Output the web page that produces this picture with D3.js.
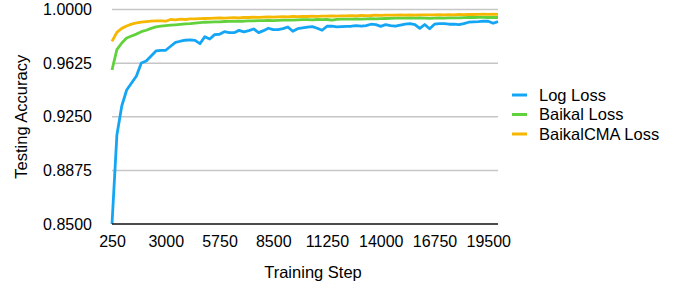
<!DOCTYPE html>
<html>
<head>
<meta charset="utf-8">
<script src="https://cdn.jsdelivr.net/npm/d3@7"></script>
<style>
  body { margin: 0; background: #fff; }
  svg { display: block; }
  text { font-family: "Liberation Sans", Arial, Helvetica, sans-serif; fill: #000; }
</style>
</head>
<body>
<svg id="chart" width="688" height="288"></svg>
<script>
// ---- data ----
const steps = d3.range(250, 20001, 250); // 80 training steps
const xTickLabels = [250, 3000, 5750, 8500, 11250, 14000, 16750, 19500];
const yTickLabels = [0.85, 0.8875, 0.925, 0.9625, 1.0];
const seriesNames = ["Log Loss", "Baikal Loss", "BaikalCMA Loss"];

const logLoss = [
  0.8500,0.9122,0.9325,0.9437,0.9486,0.9535,0.9626,0.9640,0.9675,0.9710,
  0.9714,0.9715,0.9743,0.9770,0.9778,0.9785,0.9787,0.9784,0.9761,0.9810,
  0.9794,0.9824,0.9827,0.9845,0.9838,0.9838,0.9854,0.9843,0.9852,0.9864,
  0.9838,0.9852,0.9869,0.9859,0.9859,0.9866,0.9878,0.9848,0.9866,0.9871,
  0.9876,0.9880,0.9869,0.9855,0.9883,0.9883,0.9878,0.9880,0.9882,0.9883,
  0.9887,0.9883,0.9887,0.9897,0.9894,0.9882,0.9894,0.9887,0.9883,0.9890,
  0.9897,0.9901,0.9894,0.9868,0.9895,0.9865,0.9897,0.9901,0.9901,0.9897,
  0.9897,0.9894,0.9901,0.9911,0.9913,0.9915,0.9918,0.9918,0.9904,0.9915
];
const baikalLoss = [
  0.9577,0.9719,0.9766,0.9801,0.9815,0.9828,0.9845,0.9855,0.9868,0.9878,
  0.9883,0.9887,0.9890,0.9893,0.9896,0.9899,0.9901,0.9905,0.9908,0.9911,
  0.9912,0.9913,0.9914,0.9916,0.9917,0.9917,0.9919,0.9918,0.9920,0.9921,
  0.9922,0.9922,0.9923,0.9922,0.9924,0.9925,0.9926,0.9926,0.9928,0.9929,
  0.9929,0.9928,0.9930,0.9929,0.9930,0.9925,0.9931,0.9932,0.9932,0.9933,
  0.9934,0.9933,0.9935,0.9936,0.9935,0.9936,0.9937,0.9938,0.9939,0.9940,
  0.9940,0.9941,0.9940,0.9941,0.9940,0.9938,0.9940,0.9941,0.9940,0.9941,
  0.9942,0.9941,0.9943,0.9944,0.9944,0.9945,0.9945,0.9944,0.9945,0.9944
];
const baikalCMALoss = [
  0.9777,0.9840,0.9868,0.9885,0.9898,0.9906,0.9911,0.9915,0.9918,0.9920,
  0.9921,0.9918,0.9930,0.9927,0.9932,0.9930,0.9934,0.9935,0.9936,0.9937,
  0.9938,0.9940,0.9941,0.9940,0.9942,0.9943,0.9942,0.9945,0.9944,0.9946,
  0.9945,0.9947,0.9948,0.9946,0.9949,0.9950,0.9949,0.9951,0.9950,0.9952,
  0.9951,0.9953,0.9952,0.9954,0.9953,0.9955,0.9954,0.9956,0.9955,0.9957,
  0.9956,0.9958,0.9957,0.9958,0.9960,0.9959,0.9960,0.9961,0.9960,0.9962,
  0.9961,0.9962,0.9961,0.9963,0.9962,0.9963,0.9962,0.9964,0.9963,0.9964,
  0.9963,0.9965,0.9964,0.9966,0.9965,0.9966,0.9967,0.9966,0.9967,0.9966
];
const colors = ["#14A6F5", "#62D23C", "#F6B700"];

// ---- chart ----
const svg = d3.select("#chart");
const margin = { left: 112, right: 190, top: 9.5, bottom: 64 };
const W = 688, H = 288;
const x = d3.scaleLinear().domain([250, 20000]).range([margin.left, W - margin.right]);
const y = d3.scaleLinear().domain([0.85, 1.0]).range([H - margin.bottom, margin.top]);

// gridlines
svg.append("g")
  .selectAll("line")
  .data(yTickLabels.filter(d => d > 0.85))
  .join("line")
  .attr("x1", x.range()[0]).attr("x2", x.range()[1])
  .attr("y1", d => y(d)).attr("y2", d => y(d))
  .attr("stroke", "#c6c6c6").attr("stroke-width", 1.5);

// y axis labels
const yAxis = d3.axisLeft(y).tickValues(yTickLabels).tickFormat(d3.format(".4f")).tickSize(0).tickPadding(20);
svg.append("g").attr("transform", `translate(${margin.left},0)`).call(yAxis)
  .call(g => g.select(".domain").remove())
  .selectAll("text").attr("font-size", 16).attr("font-family", "Liberation Sans, Arial, sans-serif").attr("fill", "#000");

// x axis
const xAxis = d3.axisBottom(x).tickValues(xTickLabels).tickFormat(d => d).tickSize(0).tickPadding(12);
svg.append("g").attr("transform", `translate(0,${y(0.85)})`).call(xAxis)
  .call(g => g.select(".domain").remove())
  .selectAll("text").attr("font-size", 16).attr("font-family", "Liberation Sans, Arial, sans-serif").attr("fill", "#000");

// series lines
const seriesData = [logLoss, baikalLoss, baikalCMALoss];
const line = d3.line().x((d, i) => x(steps[i])).y(d => y(d));
// draw in order: orange behind? draw blue, green, orange
svg.append("g").selectAll("path")
  .data(seriesData)
  .join("path")
  .attr("d", d => line(d))
  .attr("fill", "none")
  .attr("stroke", (d, i) => colors[i])
  .attr("stroke-width", 2.8)
  .attr("stroke-linejoin", "round")
  .attr("stroke-linecap", "butt");

// baseline axis
svg.append("line")
  .attr("x1", x.range()[0]).attr("x2", x.range()[1])
  .attr("y1", y(0.85)).attr("y2", y(0.85))
  .attr("stroke", "#111").attr("stroke-width", 1.5);

// axis titles
svg.append("text")
  .attr("x", (x.range()[0] + x.range()[1]) / 2 + 8)
  .attr("y", 278)
  .attr("text-anchor", "middle")
  .attr("font-size", 16.5)
  .text("Training Step");

svg.append("text")
  .attr("transform", `translate(27,${(y(0.85) + y(1.0)) / 2}) rotate(-90)`)
  .attr("text-anchor", "middle")
  .attr("font-size", 16.5)
  .text("Testing Accuracy");

// legend
const legend = svg.append("g").attr("transform", "translate(512,95)");
const li = legend.selectAll("g").data(seriesNames).join("g")
  .attr("transform", (d, i) => `translate(0,${i * 19.5})`);
li.append("line").attr("x1", 0).attr("x2", 15).attr("y1", 0).attr("y2", 0)
  .attr("stroke", (d, i) => colors[i]).attr("stroke-width", 3);
li.append("text").attr("x", 27).attr("y", 0).attr("dy", "0.35em")
  .attr("font-size", 16.5).text(d => d);
</script>
</body>
</html>
